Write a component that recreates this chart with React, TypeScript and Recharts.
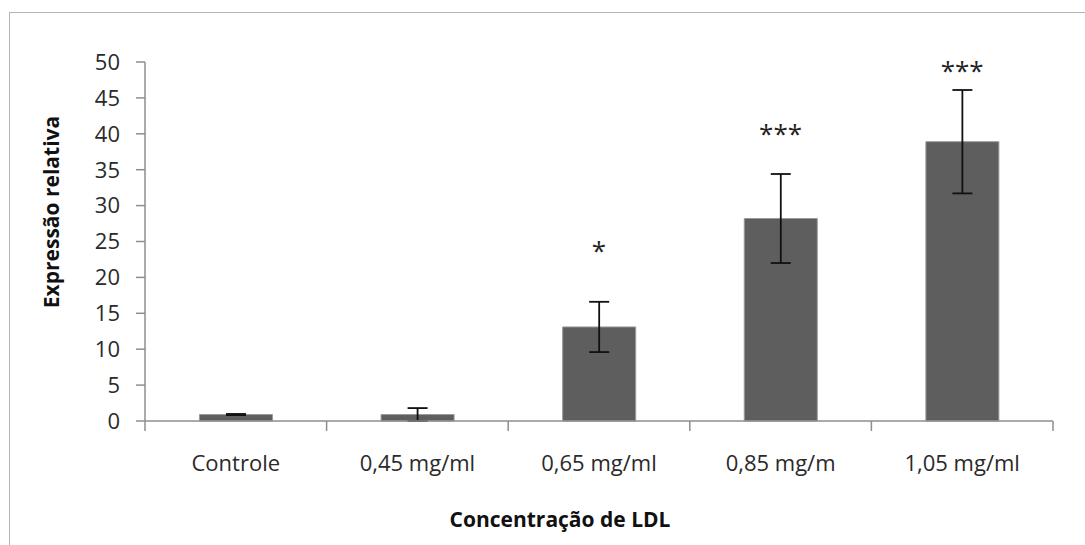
import { Bar, ComposedChart, ErrorBar, Scatter, XAxis, YAxis } from "recharts";

// LDL concentration groups and relative expression (mean ± SD)
const CATEGORIES = ["Controle", "0,45 mg/ml", "0,65 mg/ml", "0,85 mg/m", "1,05 mg/ml"];
const MEANS = [0.9, 0.9, 13.1, 28.2, 38.9];
const ERRORS = [0.08, 0.9, 3.5, 6.2, 7.2];
// significance markers and the height (in axis units) where they are drawn
const SIGNIFICANCE = ["", "", "*", "***", "***"];
const MARK_Y = [null, null, 24.2, 40.5, 49.3];
const Y_TICKS = [0, 5, 10, 15, 20, 25, 30, 35, 40, 45, 50];

const data = CATEGORIES.map((name, i) => ({
  name,
  mean: MEANS[i],
  err: ERRORS[i],
  sig: SIGNIFICANCE[i],
  markY: MARK_Y[i],
}));

const FONT = "'Open Sans', sans-serif";
const AXIS = "#8e8e8e";

// category label plus tick marks on the band edges
function CategoryTick(props: any) {
  const { x, y, payload, index } = props;
  const half = payload?.offset || 908 / CATEGORIES.length / 2;
  const last = index === CATEGORIES.length - 1;
  return (
    <g>
      <line x1={x - half} x2={x - half} y1={y} y2={y + 10} stroke={AXIS} strokeWidth={1.5} />
      {last && <line x1={x + half} x2={x + half} y1={y} y2={y + 10} stroke={AXIS} strokeWidth={1.5} />}
      <text x={x} y={y + 50} textAnchor="middle" fontFamily={FONT} fontSize={22} fill="#2a2a2a">
        {payload.value}
      </text>
    </g>
  );
}

function Stars(props: any) {
  const { cx, cy, payload } = props;
  if (!payload?.sig) return <g />;
  return (
    <text x={cx} y={cy + 13} textAnchor="middle" fontFamily={FONT} fontSize={26} fill="#222">
      {payload.sig}
    </text>
  );
}

export default function App() {
  return (
    <div style={{ position: "absolute", left: 0, top: 0, width: 1085, height: 545, background: "#fff" }}>
      <div
        style={{
          position: "absolute",
          left: 9,
          top: 12,
          width: 1076,
          height: 533,
          borderTop: "1.5px solid #b4b4b4",
          borderLeft: "1.5px solid #b4b4b4",
        }}
      />
      <ComposedChart
        width={1085}
        height={545}
        data={data}
        margin={{ top: 62, right: 32, bottom: 84, left: 0 }}
        barCategoryGap="30%"
        style={{ position: "absolute", left: 0, top: 0 }}
      >
        <XAxis
          dataKey="name"
          height={40}
          interval={0}
          axisLine={{ stroke: AXIS, strokeWidth: 1.5 }}
          tickLine={false}
          tickSize={0}
          tickMargin={0}
          tick={<CategoryTick />}
        />
        <YAxis
          width={145}
          domain={[0, 50]}
          ticks={Y_TICKS}
          interval={0}
          axisLine={{ stroke: AXIS, strokeWidth: 1.5 }}
          tickLine={{ stroke: AXIS, strokeWidth: 1.5 }}
          tickSize={9}
          tickMargin={16}
          tick={{ fontFamily: FONT, fontSize: 22, fill: "#2a2a2a" }}
        />
        <Bar dataKey="mean" fill="#5e5e5e" stroke="#999" strokeWidth={1} isAnimationActive={false}>
          <ErrorBar dataKey="err" width={10} stroke="#111" strokeWidth={1.8} isAnimationActive={false} />
        </Bar>
        <Scatter dataKey="markY" shape={<Stars />} isAnimationActive={false} />
      </ComposedChart>
      <div
        style={{
          position: "absolute",
          left: 560 - 200,
          top: 505,
          width: 400,
          textAlign: "center",
          fontFamily: FONT,
          fontWeight: 700,
          fontSize: 21,
          color: "#111",
        }}
      >
        Concentração de LDL
      </div>
      <div
        style={{
          position: "absolute",
          left: 51 - 150,
          top: 212 - 15,
          width: 300,
          height: 30,
          lineHeight: "30px",
          textAlign: "center",
          fontFamily: FONT,
          fontWeight: 700,
          fontSize: 21,
          color: "#111",
          transform: "rotate(-90deg)",
        }}
      >
        Expressão relativa
      </div>
    </div>
  );
}
